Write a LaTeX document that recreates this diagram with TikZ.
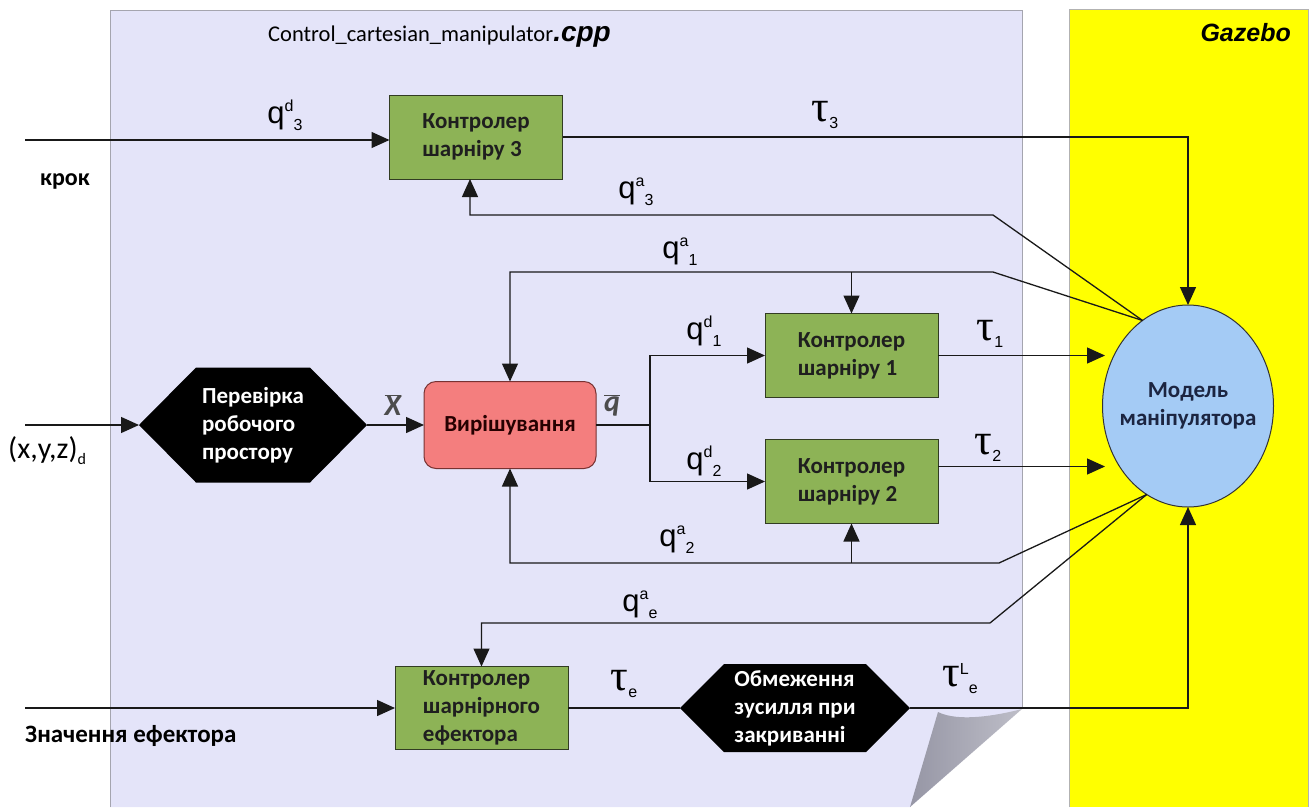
\documentclass[tikz,border=0pt]{standalone}
\usepackage{fontspec}
\setmainfont{Carlito}
\newfontfamily\arialf{Liberation Sans}
\newfontfamily\timesf{Liberation Serif}
\usetikzlibrary{arrows.meta,shapes.geometric,calc}

\definecolor{panelbg}{RGB}{228,228,249}
\definecolor{paneledge}{RGB}{165,165,175}
\definecolor{gzyellow}{RGB}{255,255,0}
\definecolor{ctrlgreen}{RGB}{141,179,86}
\definecolor{ctrledge}{RGB}{50,60,35}
\definecolor{solverfill}{RGB}{244,126,126}
\definecolor{solveredge}{RGB}{120,50,50}
\definecolor{modelfill}{RGB}{164,203,245}
\definecolor{modeltext}{RGB}{28,37,65}
\definecolor{linecol}{RGB}{25,25,25}
\definecolor{curldark}{RGB}{150,150,165}
\definecolor{curllight}{RGB}{190,190,200}

\newcommand\boxfont{\bfseries\fontsize{23}{28}\selectfont}
\newcommand\scr{\arialf\fontsize{16}{16}\selectfont}
% q with a raised superscript followed by a lowered subscript
\newcommand\qsym[2]{{\arialf\fontsize{31}{31}\selectfont q}\raisebox{12pt}{\scr #1}\raisebox{-7pt}{\scr #2}}
% tau with optional raised superscript and a lowered subscript
\newcommand\tsym[2]{{\timesf\fontsize{44}{44}\selectfont τ}\raisebox{12pt}{\scr #1}\raisebox{-7pt}{\scr #2}}

\begin{document}
\begin{tikzpicture}[x=1pt,y=-1pt,
  wire/.style={draw=linecol, line width=1.3pt},
  arr/.style={wire, -{Triangle[length=18pt,width=16pt]}},
  ctrl/.style={rectangle, draw=ctrledge, line width=1pt, fill=ctrlgreen,
    minimum width=173pt, minimum height=84pt, inner sep=0pt, outer sep=0pt,
    align=left, font=\boxfont, text=black!88},
  solverbox/.style={rectangle, rounded corners=12pt, draw=solveredge, line width=1pt,
    fill=solverfill, minimum width=172pt, minimum height=87pt, inner sep=0pt,
    outer sep=0pt, font=\boxfont, text=black!85!red},
  hexbox/.style={rectangle, inner sep=0pt, outer sep=0pt, align=left,
    font=\boxfont, text=white,
    path picture={\fill[black]
      let \p1=(path picture bounding box.south west),
          \p2=(path picture bounding box.north east) in
      (\x1,{(\y1+\y2)/2}) -- (\x1+#1,\y2) -- (\x2-#1,\y2) --
      (\x2,{(\y1+\y2)/2}) -- (\x2-#1,\y1) -- (\x1+#1,\y1) -- cycle;}},
  modelbox/.style={ellipse, draw=black!80, line width=1pt, fill=modelfill,
    minimum width=171pt, minimum height=202pt, inner sep=0pt, outer sep=0pt},
  modeltxt/.style={inner sep=0pt, align=center, font=\boxfont, text=modeltext},
  lab/.style={inner sep=0pt, anchor=center},
  plain/.style={inner sep=0pt}]

\useasboundingbox (0,0) rectangle (1315,807);
\fill[white] (0,0) rectangle (1315,807);

% program panel with a folded lower right corner
\fill[panelbg] (110,10) -- (1022,10) -- (1022,708) -- (910,807) -- (110,807) -- cycle;
\draw[paneledge, line width=1pt] (110,807) -- (110,10) -- (1022,10) -- (1022,708);
\shade[left color=curldark, right color=curllight]
  (938,712) .. controls (958,722) and (995,716) .. (1022,709) -- (910,807) -- cycle;

% simulator panel
\fill[gzyellow] (1069,9) rectangle (1308,807);
\draw[black!30, line width=0.8pt] (1069,807) -- (1069,9) -- (1308,9) -- (1308,807);

% titles
\node[plain, anchor=base west] (title) at (268,41)
  {{\fontsize{22.5}{22.5}\selectfont Control\_cartesian\_manipulator}{\arialf\bfseries\itshape\fontsize{28}{28}\selectfont .cpp}};
\node[plain, anchor=base east] (gz) at (1291,41)
  {\arialf\bfseries\itshape\fontsize{25}{25}\selectfont Gazebo};

% blocks
\node[ctrl] (c3) at (476,137) {Контролер\\шарніру 3};
\node[ctrl] (c1) at (851.5,355.5) {Контролер\\шарніру 1};
\node[ctrl] (c2) at (851.5,481.5) {Контролер\\шарніру 2};
\node[ctrl, minimum height=83pt] (ce) at (481.5,708) {Контролер\\шарнірного\\ефектора};
\node[solverbox] (solver) at (510,425) {Вирішування};
\node[hexbox=57pt, minimum width=228pt, minimum height=115pt] (h1) at (253,425)
  {Перевірка\\робочого\\простору};
\node[hexbox=44pt, minimum width=230pt, minimum height=88pt] (h2) at (795,708)
  {Обмеження\\зусилля при\\закриванні};
\node[modelbox] (mod) at (1188,406) {};
\node[modeltxt] (modtxt) at (mod.center) {Модель\\маніпулятора};

% free ends and bends
\coordinate (in3) at (25,140);
\coordinate (inx) at (25,425);
\coordinate (ine) at (25,708);
\coordinate (k3) at (993,215);
\coordinate (k1) at (993,272);
\coordinate (k2) at (999,563);
\coordinate (ke) at (990,623);
\coordinate (sp) at (650,425);
\coordinate (tipx) at (1105,0);
\coordinate (f3) at ([xshift=-6pt]c3.south);

% forward signals
\draw[arr] (in3) -- (in3 -| c3.west);
\draw[arr] (inx) -- (h1.west);
\draw[arr] (h1.east) -- (solver.west);
\draw[wire] (solver.east) -- (sp);
\draw[arr] (sp) |- (c1.west);
\draw[arr] (sp) |- (c2.west);
\draw[arr] (c3.east) -| (mod.north);
\draw[arr] (c1.east) -- (c1.east -| tipx);
\draw[arr] ([yshift=15pt]c2.east) -- ([yshift=15pt]c2.east -| tipx);
\draw[arr] (ine) -- (ce.west);
\draw[wire] (ce.east) -- (h2.west);
\draw[arr] (h2.east) -| (mod.south);

% feedback from the model
\draw[arr] (mod.118) -- (k3) -| (f3);
\draw[arr] (mod.118) -- (k1) -| (solver.north);
\draw[arr] (k1 -| c1.north) -- (c1.north);
\draw[arr] (mod.245) -- (k2) -| (solver.south);
\draw[arr] (k2 -| c2.south) -- (c2.south);
\draw[arr] (mod.245) -- (ke) -| (ce.north);

% signal labels
\node[lab] (lqd3) at (285,115) {\qsym{d}{3}};
\node[lab] (lt3) at (825,115) {\tsym{}{3}};
\node[lab] (lqa3) at (636,192) {\qsym{a}{3}};
\node[lab] (lqa1) at (680,252) {\qsym{a}{1}};
\node[lab] (lqd1) at (704,331) {\qsym{d}{1}};
\node[lab] (lqd2) at (704,461) {\qsym{d}{2}};
\node[lab] (lt1) at (990,334) {\tsym{}{1}};
\node[lab] (lt2) at (988,448) {\tsym{}{2}};
\node[lab] (lqa2) at (677,540) {\qsym{a}{2}};
\node[lab] (lqae) at (640,605) {\qsym{a}{e}};
\node[lab] (lte) at (624,684) {\tsym{}{e}};
\node[lab] (ltle) at (960,679) {\tsym{L}{e}};
\node[lab] (lx) at (393,405)
  {\textcolor{black!70}{$\overline{\mbox{\bfseries\itshape\fontsize{30}{30}\selectfont X}}$}};
\node[lab] (lq) at (612,405)
  {\textcolor{black!70}{$\overline{\mbox{\bfseries\itshape\fontsize{30}{30}\selectfont q}}$}};

% input labels
\node[plain, anchor=base west] (lxyz) at (8,458)
  {\fontsize{30}{30}\selectfont (x,y,z)\raisebox{-6pt}{\fontsize{16}{16}\selectfont d}};
\node[plain, anchor=base west] (lkrok) at (40,185) {\bfseries\fontsize{24}{24}\selectfont крок};
\node[plain, anchor=base west] (leff) at (25,742)
  {\bfseries\fontsize{25}{25}\selectfont Значення ефектора};
\end{tikzpicture}
\end{document}
